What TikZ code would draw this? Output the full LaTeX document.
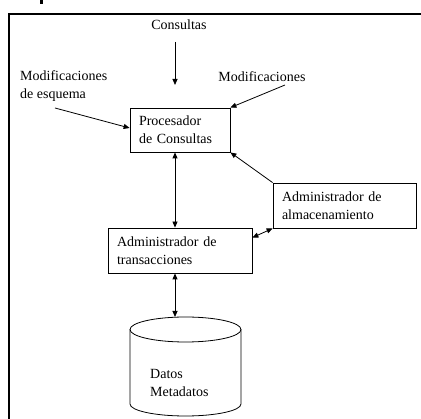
\documentclass[tikz,border=0pt]{standalone}
\usepackage{fontspec}
\setmainfont{Liberation Serif}
\usetikzlibrary{arrows.meta}
\tikzset{
  caja/.style={draw, line width=0.8pt, minimum height=45pt, inner xsep=9pt, align=left},
  texto/.style={align=left, inner sep=0pt},
  flecha/.style={line width=0.8pt, -{Triangle[length=6pt,width=5pt]}},
  doble/.style={line width=0.8pt, {Triangle[length=6pt,width=5pt]}-{Triangle[length=6pt,width=5pt]}}
}

\begin{document}
\begin{tikzpicture}[x=1pt, y=1pt, font=\fontsize{14}{18}\selectfont]
	%%%%% START %%%%%
	\useasboundingbox (0,0) rectangle (421,-419);
	
	\fill[black] (40,0) rectangle (42.5,-4);
	\draw[line width=1.6pt] (421,-14) -- (9,-14) -- (9,-419);
	
	\node[caja, text width=82pt, minimum height=44pt] (proc) at (180,-130) {Procesador\\de Consultas};
	\node[caja, text width=126pt] (trans) at (180,-250.5) {Administrador de\\transacciones};
	\node[caja, text width=125pt] (alm) at (344.5,-205.5) {Administrador de\\almacenamiento};
	
	\node[texto] (cons) at (179,-25) {Consultas};
	\node[texto, anchor=west] (modesq) at (20,-86) {Modificaciones\\de esquema};
	\node[texto] (mod) at (262,-77) {Modificaciones};
	
	\coordinate (c1) at (175,-42);
	\coordinate (c2) at (175,-85);
	\coordinate (e1) at (55,-108);
	\coordinate (m1) at (285,-85);
	\coordinate (dbtop) at (175,-317);
	
	\draw[flecha] (c1) -- (c2);
	\draw[flecha] (e1) -- ([yshift=2pt]proc.west);
	\draw[flecha] (m1) -- (proc.north east);
	\draw[flecha] (alm.north west) -- (proc.south east);
	\draw[doble] ([xshift=-5pt]proc.south) -- ([xshift=-5pt]trans.north);
	\draw[doble] ([yshift=-10pt]trans.north east) -- (alm.south west);
	\draw[doble] ([xshift=-5pt]trans.south) -- (dbtop);
	
	% cilindro
	\draw[line width=0.8pt] (130,-329.5) -- (130,-404) arc (180:360:55.5 and 12) -- (241,-329.5);
	\draw[line width=0.8pt] (185.5,-329.5) ellipse (55.5 and 12.5);
	\node[texto, anchor=west] (datos) at (150,-383) {Datos\\Metadatos};
	
	%%%%% END %%%%%
\end{tikzpicture}
\end{document}
